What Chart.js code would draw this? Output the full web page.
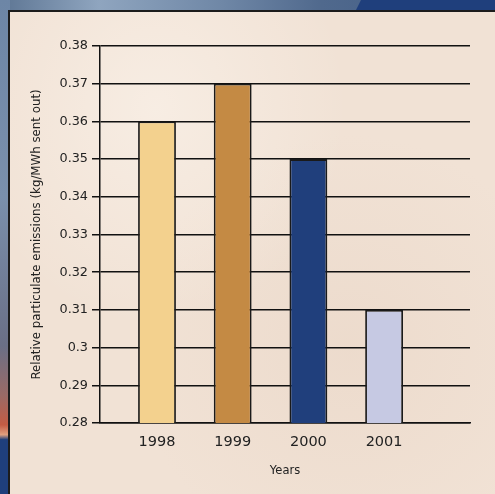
<!DOCTYPE html>
<html>
<head>
<meta charset="utf-8">
<script src="https://cdn.jsdelivr.net/npm/chart.js@4"></script>
<style>
  html, body { margin:0; padding:0; width:495px; height:494px; overflow:hidden; }
  body { position:relative; background:#4f6a8e; }
  #topstrip { position:absolute; left:0; top:0; width:495px; height:12px;
    background: linear-gradient(90deg, #5d7593 0%, #8fa5bf 20%, #6f87a6 45%, #50698d 65%, #3e5a84 100%); }
  #topblue { position:absolute; left:355px; top:0; width:140px; height:12px; background:#1f3f7c;
    clip-path: polygon(6px 0, 140px 0, 140px 12px, 0 12px); }
  #leftstrip { position:absolute; left:0; top:0; width:10px; height:494px;
    background: linear-gradient(180deg, #6d86a6 0%, #7a90ac 40%, #6a6f86 70%, #9a6a66 80%, #c45c44 86%, #e0a080 88%, #1f3f7c 89%, #1f3f7c 100%); }
  #panel { position:absolute; left:8px; top:10px; width:487px; height:484px;
    border-left:2px solid #1c1c1c; border-top:2px solid #1c1c1c; box-sizing:border-box;
    background:
      radial-gradient(ellipse at 30% 20%, rgba(255,250,244,0.45), rgba(255,250,244,0) 40%),
      radial-gradient(ellipse at 70% 70%, rgba(232,212,196,0.5), rgba(232,212,196,0) 45%),
      #f1e2d5; }
  #wrap { position:absolute; left:0; top:0; width:495px; height:494px; }
</style>
</head>
<body>
<div id="topstrip"></div>
<div id="topblue"></div>
<div id="leftstrip"></div>
<div id="panel"></div>
<div id="wrap"><canvas id="c" width="495" height="494"></canvas></div>
<script>
const categories = ['1998', '1999', '2000', '2001'];
const years = [1998, 1999, 2000, 2001];
const values = [0.36, 0.37, 0.35, 0.31];
const barColors = ['#f3d18e', '#c48a44', '#203f7c', '#c6c9e3'];
const yTicks = [0.28, 0.29, 0.3, 0.31, 0.32, 0.33, 0.34, 0.35, 0.36, 0.37, 0.38];
const yTickLabels = ['0.28', '0.29', '0.3', '0.31', '0.32', '0.33', '0.34', '0.35', '0.36', '0.37', '0.38'];
const yTitle = 'Relative particulate emissions (kg/MWh sent out)';
const xTitle = 'Years';

const FONT = "'DejaVu Sans', sans-serif";

new Chart(document.getElementById('c'), {
  type: 'bar',
  data: {
    datasets: [{
      data: years.map((x, i) => ({ x: x, y: values[i] })),
      backgroundColor: barColors,
      borderColor: '#1a1a1a',
      borderWidth: 1.8,
      borderSkipped: false,
      barPercentage: 0.5,
      categoryPercentage: 1.0
    }]
  },
  options: {
    responsive: false,
    animation: false,
    devicePixelRatio: 1,
    layout: { padding: { left: 0, right: 25, top: 46, bottom: 0 } },
    plugins: { legend: { display: false }, tooltip: { enabled: false } },
    scales: {
      x: {
        type: 'linear',
        offset: false,
        min: 1997.247,
        max: 2002.135,
        grid: { display: false },
        border: { display: true, color: '#111', width: 1.5 },
        afterBuildTicks: s => { s.ticks = years.map(v => ({ value: v })); },
        afterFit: s => { s.height = 71; },
        ticks: {
          autoSkip: false,
          maxRotation: 0,
          padding: 3,
          color: '#222',
          font: { family: FONT, size: 14.5 },
          callback: (v) => { const i = years.indexOf(v); return i >= 0 ? categories[i] : ''; }
        },
        title: { display: true, text: xTitle, color: '#222',
          font: { family: FONT, size: 11.5 }, padding: { top: 0, bottom: 16 } }
      },
      y: {
        min: 0.28,
        max: 0.38,
        afterBuildTicks: s => { s.ticks = yTicks.map(v => ({ value: v })); },
        afterFit: s => { s.width = 100; },
        grid: { color: '#111', lineWidth: 1.5, tickLength: 8, drawTicks: true },
        border: { display: true, color: '#111', width: 1.5 },
        ticks: {
          padding: 4,
          color: '#222',
          font: { family: FONT, size: 12.8 },
          callback: (v) => { const i = yTicks.findIndex(t => Math.abs(t - v) < 1e-9); return i >= 0 ? yTickLabels[i] : ''; }
        },
        title: { display: true, text: yTitle, color: '#222',
          font: { family: FONT, size: 11.8 }, padding: { top: 30, bottom: 0 } }
      }
    }
  }
});
</script>
</body>
</html>
